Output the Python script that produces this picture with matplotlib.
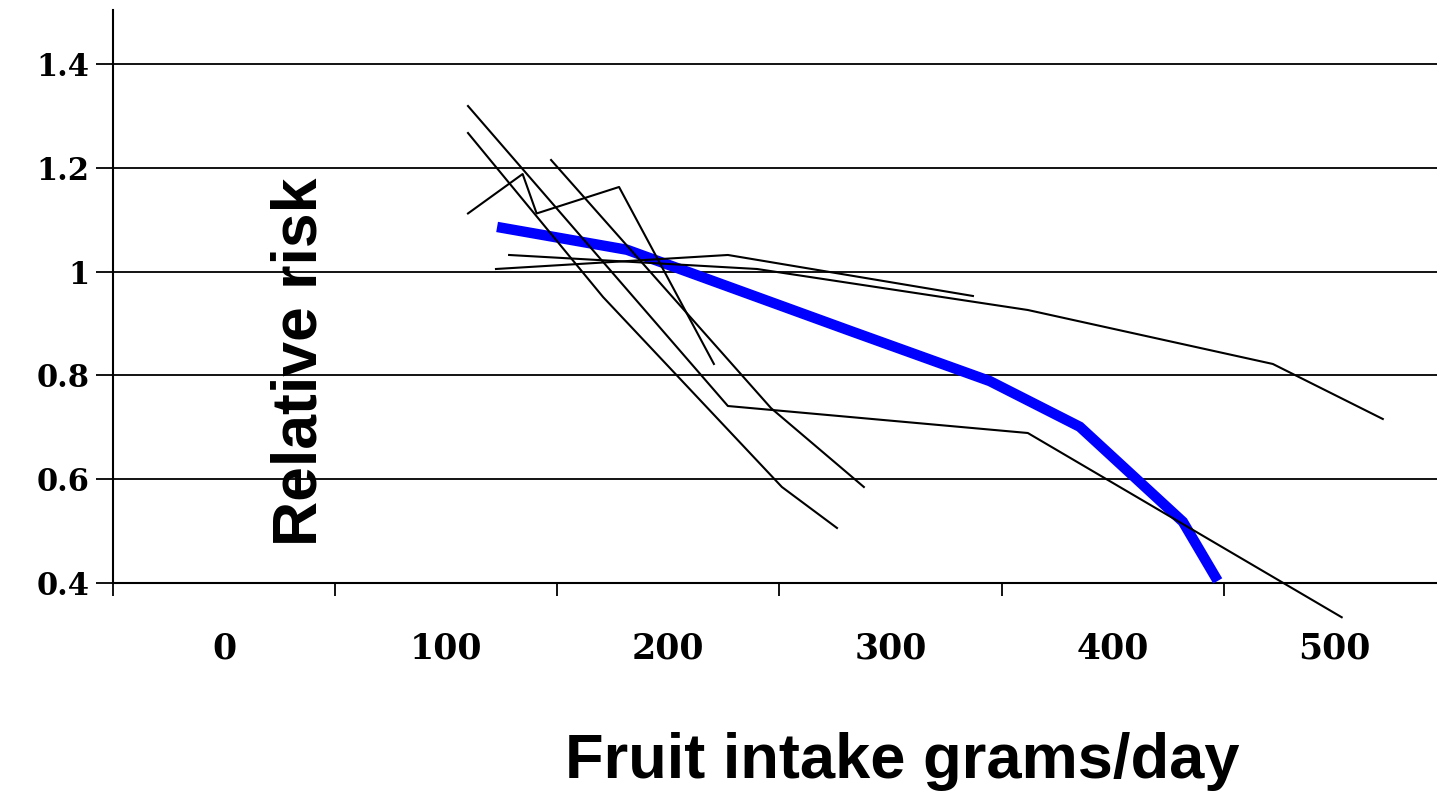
import matplotlib
matplotlib.use("Agg")
import matplotlib.pyplot as plt
from matplotlib.ticker import FixedLocator, NullFormatter, FixedFormatter

# ---- data ----
x_label_values = [0, 100, 200, 300, 400, 500]
x_tick_marks = [-50, 50, 150, 250, 350, 450]
y_ticks = [0.4, 0.6, 0.8, 1.0, 1.2, 1.4]
y_tick_labels = ["0.4", "0.6", "0.8", "1", "1.2", "1.4"]

pooled_x = [122.9, 181.4, 281.7, 344.7, 385.2, 431.6, 447.3]
pooled_y = [1.086, 1.042, 0.886, 0.789, 0.701, 0.518, 0.404]

study1_x = [109.8, 226.8, 361.8, 503.1]
study1_y = [1.319, 0.741, 0.689, 0.334]
study2_x = [109.8, 170.6, 251.1, 275.9]
study2_y = [1.267, 0.951, 0.585, 0.506]
study3_x = [109.8, 134.4, 140.7, 177.8, 220.5]
study3_y = [1.112, 1.188, 1.112, 1.163, 0.822]
study4_x = [147.2, 246.2, 288.0]
study4_y = [1.215, 0.737, 0.585]
study5_x = [128.3, 239.9, 361.8, 472.1, 521.6]
study5_y = [1.032, 1.005, 0.926, 0.822, 0.716]
study6_x = [122.4, 226.8, 337.1]
study6_y = [1.005, 1.032, 0.953]

studies = [(study1_x, study1_y), (study2_x, study2_y), (study3_x, study3_y),
           (study4_x, study4_y), (study5_x, study5_y), (study6_x, study6_y)]

W, H = 1437, 791
fig = plt.figure(figsize=(W / 100, H / 100), dpi=100)
ax = fig.add_axes([113 / W, 1 - 583 / H, 1 - 113 / W, (583 - 10) / H])

ax.set_xlim(-50, 546)
ax.set_ylim(0.4, 1.504)

for s in ["top", "right"]:
    ax.spines[s].set_visible(False)
for s in ["left", "bottom"]:
    ax.spines[s].set_color("black")
    ax.spines[s].set_linewidth(1.5)

# gridlines
ax.set_yticks(y_ticks)
ax.set_yticklabels(y_tick_labels, fontfamily="DejaVu Serif", fontweight="bold", fontsize=22)
ax.yaxis.grid(True, color="black", linewidth=1.3)
ax.set_axisbelow(True)
ax.tick_params(axis="y", direction="out", length=12, width=1.3, pad=5, color="black")

ax.xaxis.set_major_locator(FixedLocator(x_tick_marks))
ax.xaxis.set_major_formatter(NullFormatter())
ax.xaxis.set_minor_locator(FixedLocator(x_label_values))
ax.xaxis.set_minor_formatter(FixedFormatter([str(v) for v in x_label_values]))
ax.tick_params(axis="x", which="major", direction="out", length=9, width=1.3, color="black")
ax.tick_params(axis="x", which="minor", length=0, pad=35, labelsize=25)
for lab in ax.xaxis.get_minorticklabels():
    lab.set_fontfamily("DejaVu Serif")
    lab.set_fontweight("bold")

# pooled line (thick blue) below the study lines
ax.plot(pooled_x, pooled_y, color="#0000FF", linewidth=7.5, solid_capstyle="butt",
        solid_joinstyle="miter", zorder=3, clip_on=False)
for sx, sy in studies:
    ax.plot(sx, sy, color="black", linewidth=1.5, zorder=4, clip_on=False)

fig.text(300 / W, 1 - 362 / H, "Relative risk", rotation=90,
         ha="center", va="center", fontsize=45, fontweight="bold",
         fontfamily="Liberation Sans", zorder=5)
fig.text(902 / W, 1 - 778 / H, "Fruit intake grams/day", ha="center", va="baseline",
         fontsize=45.5, fontweight="bold", fontfamily="Liberation Sans")

fig.savefig("out.png", dpi=100)
